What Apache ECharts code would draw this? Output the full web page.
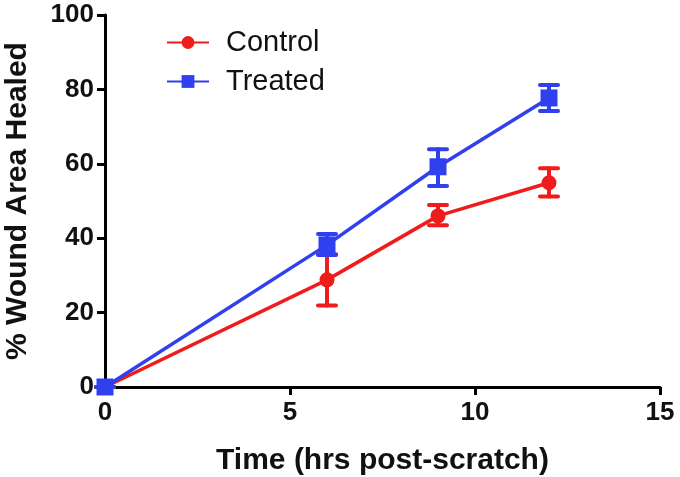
<!DOCTYPE html>
<html><head><meta charset="utf-8">
<script src="https://cdn.jsdelivr.net/npm/echarts@6/dist/echarts.min.js"></script>
<style>html,body{margin:0;padding:0;background:#fff}#c{width:680px;height:477px}</style>
</head><body><div id="c"></div>
<script>
const times = [0, 6, 9, 12];
const controlMean = [0, 28.8, 46.0, 54.9];
const controlLow  = [0, 21.9, 43.5, 51.2];
const controlHigh = [0, 35.7, 48.9, 58.8];
const treatedMean = [0, 38.2, 59.2, 77.7];
const treatedLow  = [0, 35.5, 54.0, 74.2];
const treatedHigh = [0, 41.1, 63.9, 81.2];
const xTicks = [0, 5, 10, 15];
const yTicks = [0, 20, 40, 60, 80, 100];

const RED = '#f01c1c', BLUE = '#3040ee';
const font = 'Liberation Sans, Arial, sans-serif';

function errSeries(name, low, high, color) {
  return {
    type: 'custom', name: name + 'err', z: 3, clip: false,
    data: times.map((t, i) => [t, low[i], high[i]]),
    renderItem: function (params, api) {
      const a = api.coord([api.value(0), api.value(1)]);
      const b = api.coord([api.value(0), api.value(2)]);
      const w = 9;
      const st = {stroke: color, lineWidth: 4, lineCap: 'round'};
      return {type: 'group', children: [
        {type: 'line', shape: {x1: a[0], y1: a[1], x2: b[0], y2: b[1]}, style: st},
        {type: 'line', shape: {x1: a[0]-w, y1: a[1], x2: a[0]+w, y2: a[1]}, style: st},
        {type: 'line', shape: {x1: b[0]-w, y1: b[1], x2: b[0]+w, y2: b[1]}, style: st}
      ]};
    },
    silent: true
  };
}

const chart = echarts.init(document.getElementById('c'), null, {renderer: 'canvas'});
chart.setOption({
  animation: false,
  backgroundColor: '#fff',
  grid: {left: 105, right: 20, top: 15, bottom: 90, containLabel: false, outerBoundsMode: 'none'},
  legend: {
    data: ['Control', 'Treated'], orient: 'vertical', left: 161, top: 23,
    itemWidth: 42, itemHeight: 16, itemGap: 10,
    textStyle: {fontFamily: font, fontSize: 29, color: '#111', padding: [0, 0, 0, 12]}
  },
  xAxis: {
    type: 'value', min: 0, max: 15, interval: 5,
    name: 'Time (hrs post-scratch)', nameLocation: 'middle', nameGap: 59,
    nameTextStyle: {fontFamily: font, fontSize: 30, fontWeight: 'bold', color: '#111'},
    axisLine: {show: true, onZero: false, lineStyle: {color: '#000', width: 3}},
    axisTick: {show: true, length: 8, lineStyle: {color: '#000', width: 3}},
    axisLabel: {fontFamily: font, fontSize: 26, fontWeight: 'bold', color: '#111', margin: 13},
    splitLine: {show: false}
  },
  yAxis: {
    type: 'value', min: 0, max: 100, interval: 20,
    name: '% Wound Area Healed', nameLocation: 'middle', nameGap: 72, nameRotate: 90,
    nameTextStyle: {fontFamily: font, fontSize: 30, fontWeight: 'bold', color: '#111'},
    axisLine: {show: true, onZero: false, lineStyle: {color: '#000', width: 3}},
    axisTick: {show: true, length: 8, lineStyle: {color: '#000', width: 3}},
    axisLabel: {fontFamily: font, fontSize: 26, fontWeight: 'bold', color: '#111', margin: 11},
    splitLine: {show: false}
  },
  series: [
    errSeries('Control', controlLow, controlHigh, RED),
    errSeries('Treated', treatedLow, treatedHigh, BLUE),
    {
      name: 'Control', type: 'line', z: 4, clip: false,
      data: times.map((t, i) => [t, controlMean[i]]),
      symbol: 'circle', symbolSize: 15,
      lineStyle: {color: RED, width: 3.5}, itemStyle: {color: RED}
    },
    {
      name: 'Treated', type: 'line', z: 5, clip: false,
      data: times.map((t, i) => [t, treatedMean[i]]),
      symbol: 'rect', symbolSize: 17,
      lineStyle: {color: BLUE, width: 3.5}, itemStyle: {color: BLUE}
    }
  ]
});
</script></body></html>
